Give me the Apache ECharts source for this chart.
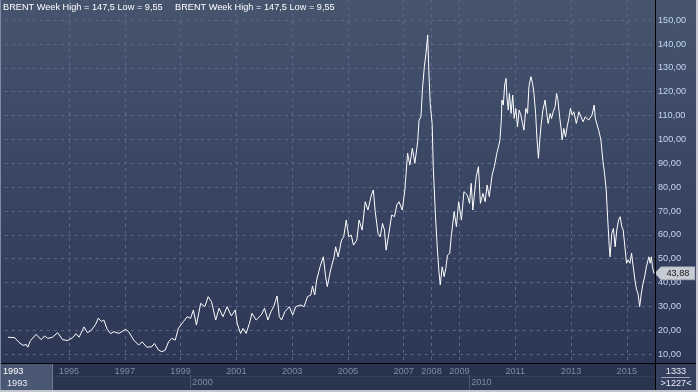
<!DOCTYPE html>
<html><head><meta charset="utf-8">
<script src="https://cdn.jsdelivr.net/npm/echarts@6/dist/echarts.min.js"></script>
<style>html,body{margin:0;padding:0;background:#2c3756}#c{width:698px;height:392px}</style>
</head><body><div id="c"></div>
<script>
// ---- data (decimal year, weekly close) ----
const weekYears = [
1993.46,1993.70,1993.88,1994.00,1994.12,1994.17,1994.27,1994.47,1994.53,1994.65,1994.77,1994.89,
1995.06,1995.24,1995.42,1995.60,1995.78,1995.90,1996.01,1996.19,1996.31,1996.45,1996.61,1996.70,1996.81,1996.90,
1997.02,1997.14,1997.26,1997.44,1997.68,1997.79,1997.97,1998.15,1998.27,1998.44,1998.62,1998.71,1998.86,1998.98,
1999.10,1999.22,1999.33,1999.46,1999.57,1999.75,1999.89,2000.01,2000.11,2000.22,2000.37,2000.52,2000.64,2000.76,2000.82,2000.91,
2001.03,2001.17,2001.32,2001.47,2001.61,2001.68,2001.80,2001.89,2002.00,2002.12,2002.21,2002.36,2002.54,2002.66,2002.78,2002.89,2002.99,
2003.11,2003.19,2003.27,2003.39,2003.55,2003.67,2003.78,2003.96,2004.08,2004.20,2004.32,2004.38,2004.46,2004.53,2004.65,2004.77,2004.85,2004.91,
2005.03,2005.15,2005.21,2005.30,2005.42,2005.50,2005.59,2005.68,2005.77,2005.85,2005.97,2006.05,2006.16,2006.27,2006.37,2006.49,2006.56,2006.63,2006.73,2006.81,2006.89,2006.96,
2007.02,2007.11,2007.22,2007.32,2007.40,2007.48,2007.60,2007.69,2007.79,2007.87,2007.96,2008.05,2008.15,2008.20,2008.27,2008.32,2008.39,2008.45,2008.51,2008.55,2008.60,2008.67,2008.71,2008.79,2008.86,2008.91,2008.96,
2009.03,2009.10,2009.16,2009.22,2009.30,2009.36,2009.46,2009.54,2009.62,2009.72,2009.81,2009.93,2010.01,2010.07,2010.13,2010.25,2010.33,2010.40,2010.49,2010.57,2010.64,2010.72,2010.82,2010.90,2010.99,
2011.04,2011.10,2011.15,2011.17,2011.22,2011.27,2011.32,2011.35,2011.40,2011.44,2011.50,2011.56,2011.61,2011.67,2011.73,2011.79,2011.85,2011.91,2011.96,
2012.03,2012.09,2012.14,2012.21,2012.27,2012.32,2012.38,2012.43,2012.48,2012.53,2012.57,2012.64,2012.72,2012.77,2012.83,2012.90,2012.95,
2013.01,2013.08,2013.13,2013.18,2013.24,2013.30,2013.33,2013.39,2013.45,2013.51,2013.57,2013.63,2013.69,2013.75,2013.84,2013.93,2013.99,
2014.08,2014.16,2014.28,2014.40,2014.48,2014.52,2014.64,2014.72,2014.79,2014.85,2014.91,2014.96,2015.02,2015.05,2015.11,2015.17,2015.23,2015.29,2015.35,2015.41,2015.47,2015.52,2015.58,2015.64,2015.70,2015.76,2015.82,2015.88,2015.94,
2016.00,2016.05,2016.11,2016.17,2016.23,2016.29,2016.35,2016.44,2016.49,2016.53,2016.57,2016.62
];
const brentPrices = [
17.1,16.9,14.7,13.7,14.0,12.9,15.7,18.3,17.6,16.1,17.6,16.6,
17.1,19.0,16.1,15.7,16.9,18.6,17.1,21.4,19.0,20.0,22.6,25.1,23.7,24.3,
20.4,18.6,19.4,18.7,20.4,19.4,15.9,13.8,15.2,12.9,13.1,14.5,11.7,11.0,
11.7,15.2,16.6,15.9,20.8,23.6,25.7,25.0,28.5,22.2,31.3,29.9,34.1,32.0,32.7,24.3,
29.2,25.7,29.9,26.0,28.5,22.9,18.7,20.8,18.7,22.9,27.1,24.3,26.4,29.2,24.3,27.8,29.9,
34.4,25.7,24.3,27.8,29.9,26.4,29.9,30.6,29.9,34.1,34.8,38.6,34.8,41.1,46.6,50.8,42.5,38.3,
45.3,50.6,55.0,50.8,57.8,59.2,66.2,59.2,59.9,55.7,57.8,66.2,62.0,73.9,70.4,76.7,78.8,69.7,60.6,59.2,64.8,62.0,
53.6,60.0,68.3,67.6,72.5,73.9,70.4,78.8,94.2,89.3,96.3,90.0,99.0,108.1,109.5,120.7,130.5,136.1,143.8,129.1,115.1,106.7,88.6,67.6,53.6,45.3,39.0,
46.6,42.5,46.0,51.5,52.3,59.9,69.7,63.4,73.9,66.2,78.1,76.7,73.2,81.6,70.4,84.4,88.6,73.2,77.4,73.9,80.9,76.0,85.1,88.6,94.2,
96.5,99.8,108.1,116.5,114.4,122.8,125.6,117.9,112.3,119.3,110.9,118.6,108.8,113.0,105.3,112.3,110.2,106.7,103.9,
113.0,110.9,122.1,126.3,123.5,119.3,110.9,99.8,92.1,99.8,105.3,112.3,116.5,111.6,106.7,110.9,108.8,
111.6,113.7,119.3,116.5,109.5,103.9,99.8,104.6,101.1,105.3,108.8,113.0,110.2,111.6,106.7,111.6,112.3,
107.4,109.5,108.1,110.2,114.4,108.8,103.9,99.8,91.3,85.8,78.8,67.6,55.0,50.8,60.6,62.7,55.0,62.0,66.2,67.6,63.4,62.0,55.0,48.1,49.5,48.1,52.3,46.6,41.1,
37.0,35.5,29.9,35.5,39.6,42.5,46.6,50.8,48.1,50.8,46.6,43.88
];
const priceTicks = [10,20,30,40,50,60,70,80,90,100,110,120,130,140,150];
const yearTicks = [1995,1997,1999,2001,2003,2005,2007,2008,2009,2011,2013,2015];
const firstYearLabel = 1993;
const decadeTicks = [2000,2010];
const weekHigh = '147,5';
const weekLow = '9,55';
const footerTop = '1333';
const footerBottom = '>1227<';

// ---- layout constants ----
const X_MIN = 1993.35, X_MAX = 2016.66;
const Y_MIN = 6.29, Y_MAX = 158.44;
const TICK_SHIFT = 0.65;
const FONT = "'Liberation Sans',Arial,sans-serif";
const FS = 9.2;

const seriesData = weekYears.map((y, i) => [y, brentPrices[i]]);
const lastIdx = seriesData.length - 1;
const fmt2 = v => v.toFixed(2).replace('.', ',');
const legendText = 'BRENT Week High = ' + weekHigh + ' Low = ' + weekLow;

const chart = echarts.init(document.getElementById('c'), null, {renderer: 'canvas'});
const W = 698, H = 392, PR = 655, PB = 363;

chart.setOption({
  animation: false,
  backgroundColor: 'transparent',
  textStyle: {fontFamily: FONT},
  title: [
    {text: legendText, left: 1, top: 2, padding: [1,2], textStyle: {color: '#ffffff', fontSize: FS, fontWeight: 'normal', fontFamily: FONT}},
    {text: legendText, left: 173, top: 2, padding: [1,2], textStyle: {color: '#ffffff', fontSize: FS, fontWeight: 'normal', fontFamily: FONT}}
  ],
  graphic: [
    {type: 'rect', z: -100, silent: true, shape: {x: 0, y: 0, width: W, height: PB},
      style: {fill: {type: 'linear', x: 0, y: 0, x2: 0, y2: 1, colorStops: [{offset: 0, color: '#46546e'}, {offset: 1, color: '#2c3756'}]}}},
    {type: 'rect', z: -100, silent: true, shape: {x: 0, y: PB, width: W, height: H - PB}, style: {fill: '#27324d'}},
    {type: 'rect', z: -99, silent: true, shape: {x: 53, y: 377, width: PR - 53, height: 13}, style: {fill: '#29344f'}},
    {type: 'rect', z: -99, silent: true, shape: {x: 0, y: PB, width: 53, height: 27}, style: {fill: '#4a5773'}},
    {type: 'rect', z: -99, silent: true, shape: {x: PR, y: PB, width: W - PR, height: 27}, style: {fill: '#34405e'}},
    {type: 'line', z: -98, silent: true, shape: {x1: 52.5, y1: PB, x2: 52.5, y2: 390}, style: {stroke: '#6d7a93', lineWidth: 1}},
    {type: 'line', z: -98, silent: true, shape: {x1: 53, y1: 376.5, x2: PR, y2: 376.5}, style: {stroke: '#323d5a', lineWidth: 1}},
    {type: 'line', z: -98, silent: true, shape: {x1: 661, y1: 377.5, x2: 690, y2: 377.5}, style: {stroke: '#9aa3b5', lineWidth: 1}},
    {type: 'text', z: 50, silent: true, style: {x: 7, y: 383, text: String(firstYearLabel), fill: '#e8ecf4', font: FS + 'px ' + FONT, textVerticalAlign: 'middle'}},
    {type: 'text', z: 50, silent: true, style: {x: 676, y: 371, text: footerTop, fill: '#e8ecf4', font: FS + 'px ' + FONT, textAlign: 'center', textVerticalAlign: 'middle'}},
    {type: 'text', z: 50, silent: true, style: {x: 676, y: 383, text: footerBottom, fill: '#e8ecf4', font: FS + 'px ' + FONT, textAlign: 'center', textVerticalAlign: 'middle'}},
    {type: 'line', z: 60, silent: true, shape: {x1: PR + 0.5, y1: 0, x2: PR + 0.5, y2: H}, style: {stroke: '#000000', lineWidth: 1}},
    {type: 'line', z: 60, silent: true, shape: {x1: 0, y1: PB + 0.5, x2: W, y2: PB + 0.5}, style: {stroke: '#000000', lineWidth: 1}},
    {type: 'rect', z: 60, silent: true, shape: {x: 0, y: 390, width: W, height: 2}, style: {fill: '#c3c7cf'}},
    {type: 'rect', z: 60, silent: true, shape: {x: 696, y: 0, width: 2, height: H}, style: {fill: '#c3c7cf'}},
    {type: 'line', z: 60, silent: true, shape: {x1: 0.5, y1: 0, x2: 0.5, y2: 390}, style: {stroke: '#7d8aa5', lineWidth: 1}}
  ],
  grid: {left: 0, right: W - PR, top: 0, bottom: H - PB, containLabel: false},
  xAxis: [
    {
      type: 'value', min: X_MIN, max: X_MAX, position: 'bottom',
      axisLine: {show: false},
      axisTick: {show: false, customValues: yearTicks.map(y => y + TICK_SHIFT)},
      splitLine: {show: true, lineStyle: {color: '#5a6985', type: [3, 4], width: 1}},
      axisLabel: {
        customValues: [firstYearLabel + TICK_SHIFT].concat(yearTicks.map(y => y + TICK_SHIFT)),
        formatter: v => String(Math.round(v - TICK_SHIFT)),
        color: v => (v < 1994 ? '#ffffff' : '#7e8ca6'),
        fontSize: FS, margin: 4, fontFamily: FONT
      }
    },
    {
      type: 'value', min: X_MIN, max: X_MAX, position: 'bottom', offset: 12,
      axisLine: {show: false},
      axisTick: {show: true, customValues: decadeTicks, length: 14, inside: false, lineStyle: {color: '#4a5671'}},
      splitLine: {show: false},
      axisLabel: {
        customValues: decadeTicks,
        formatter: v => String(Math.round(v)),
        color: '#7e8ca6', fontSize: FS, margin: 3, align: 'left', padding: [0, 0, 0, 2], fontFamily: FONT
      }
    }
  ],
  yAxis: {
    type: 'value', position: 'right', min: Y_MIN, max: Y_MAX,
    axisLine: {show: false},
    axisTick: {show: false, customValues: priceTicks},
    splitLine: {show: true, lineStyle: {color: '#5a6985', type: [3, 4], width: 1}},
    axisLabel: {customValues: priceTicks, formatter: v => fmt2(v), color: '#c3d5f0', fontSize: FS, margin: 3, fontFamily: FONT}
  },
  series: [{
    type: 'line', data: seriesData, showSymbol: false, symbol: 'none',
    lineStyle: {color: '#ffffff', width: 1}, z: 5,
    markPoint: {
      silent: true, animation: false,
      symbol: 'path://M0,6.5 L6,0 L40,0 L40,13 L6,13 Z', symbolKeepAspect: false,
      symbolSize: [40, 13], symbolOffset: [21, 0],
      itemStyle: {color: '#c7cbd3', borderColor: '#a3a9b6', borderWidth: 0.5},
      label: {show: true, position: 'inside', offset: [3, 0], color: '#111111', fontSize: FS, fontFamily: FONT, formatter: p => fmt2(p.value)},
      data: [{coord: seriesData[lastIdx], value: brentPrices[lastIdx]}]
    }
  }]
});
</script></body></html>
